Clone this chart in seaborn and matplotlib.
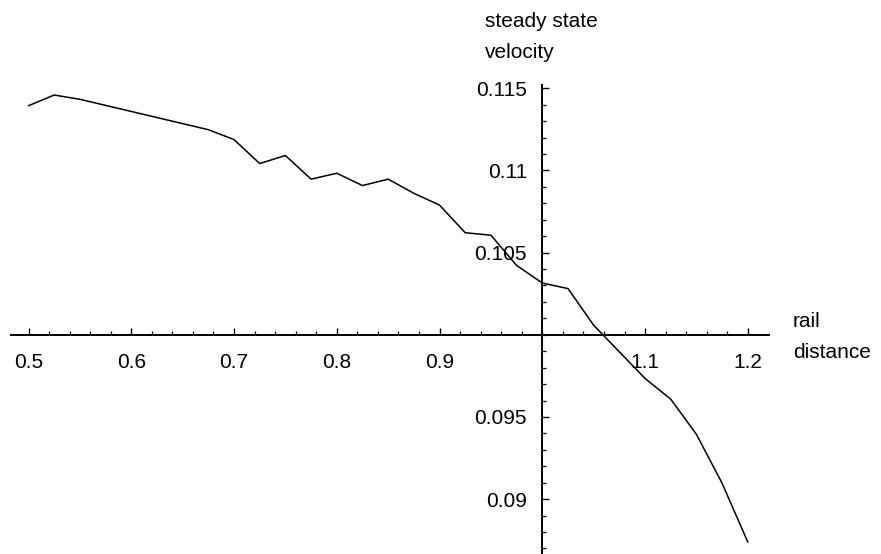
import numpy as np
import pandas as pd
import matplotlib
matplotlib.use("Agg")
import matplotlib.pyplot as plt
import seaborn as sns
from matplotlib.ticker import FixedLocator

# --- Data ---
rail_distance = [0.5, 0.525, 0.55, 0.575, 0.6, 0.625, 0.65, 0.675, 0.7, 0.725,
                 0.75, 0.775, 0.8, 0.825, 0.85, 0.875, 0.9, 0.925, 0.95, 0.975,
                 1.0, 1.025, 1.05, 1.075, 1.1, 1.125, 1.15, 1.175, 1.2]
velocity = [0.11394, 0.11459, 0.11433, 0.11396, 0.11359, 0.11322, 0.11285, 0.11248,
            0.11188, 0.11042, 0.11091, 0.10947, 0.10983, 0.10908, 0.10947, 0.10861,
            0.10789, 0.10621, 0.10606, 0.10422, 0.10315, 0.10281, 0.10058, 0.09896,
            0.09734, 0.09608, 0.09394, 0.09096, 0.08738]

x_ticks = [0.5, 0.6, 0.7, 0.8, 0.9, 1.1, 1.2]
x_tick_labels = ['0.5', '0.6', '0.7', '0.8', '0.9', '1.1', '1.2']
y_ticks = [0.09, 0.095, 0.105, 0.11, 0.115]
y_tick_labels = ['0.09', '0.095', '0.105', '0.11', '0.115']

df = pd.DataFrame({'rail distance': rail_distance, 'velocity': velocity})

# --- Plot ---
sns.set_style("white")
plt.rcParams['font.family'] = ['Liberation Sans', 'DejaVu Sans']
plt.rcParams['text.color'] = 'black'

W, H = 881, 554
fig = plt.figure(figsize=(W / 100, H / 100), dpi=100)
# axes box in pixels: left 11, right 769, top 85, bottom 554
ax = fig.add_axes([11 / W, 0, (769 - 11) / W, (554 - 85) / H])

sns.lineplot(data=df, x='rail distance', y='velocity', ax=ax,
             color='black', linewidth=1.1)

ax.set_xlim(0.48297, 1.2206)
ax.set_ylim(0.08666, 0.1152)

# axes crossing at (1.0, 0.1)
for side in ['top', 'right']:
    ax.spines[side].set_visible(False)
ax.spines['left'].set_position(('data', 1.0))
ax.spines['bottom'].set_position(('data', 0.1))
for side in ['left', 'bottom']:
    ax.spines[side].set_linewidth(1.4)
    ax.spines[side].set_color('black')

ax.xaxis.set_major_locator(FixedLocator(x_ticks))
ax.set_xticklabels(x_tick_labels)
ax.yaxis.set_major_locator(FixedLocator(y_ticks))
ax.set_yticklabels(y_tick_labels)
ax.xaxis.set_minor_locator(FixedLocator(np.arange(0.5, 1.2001, 0.02)))
ax.yaxis.set_minor_locator(FixedLocator(np.arange(0.087, 0.11501, 0.001)))

ax.tick_params(axis='both', which='major', direction='in', length=5,
               width=1.0, labelsize=15, color='black', labelcolor='black')
ax.tick_params(axis='both', which='minor', direction='in', length=2.8,
               width=0.9, color='black')
ax.tick_params(axis='x', which='major', pad=13)
ax.tick_params(axis='y', which='major', pad=11)
ax.tick_params(left=True, bottom=True, which='both')

ax.set_xlabel('')
ax.set_ylabel('')

# axis labels, two lines each
def px_text(x, y, s):
    fig.text(x / W, 1 - y / H, s, fontsize=15, ha='left', va='baseline',
             color='black')

px_text(485, 27, 'steady state')
px_text(485, 58, 'velocity')
px_text(793, 327, 'rail')
px_text(793, 358, 'distance')

fig.savefig('out.png', dpi=100, facecolor='white')
